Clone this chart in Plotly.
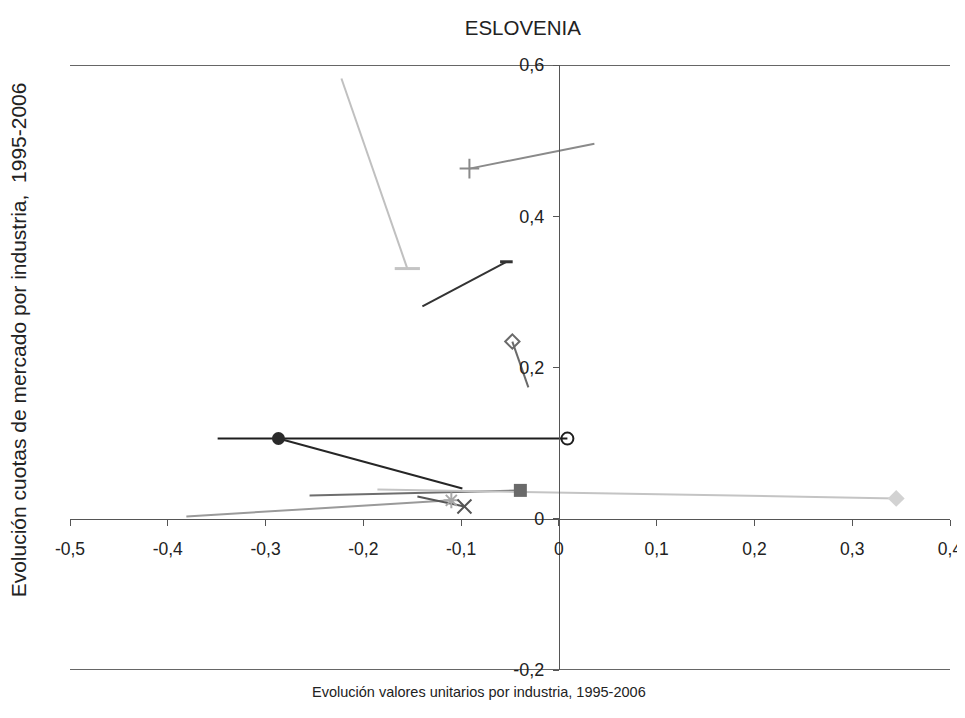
import plotly.graph_objects as go

# Each series: start point (1995) -> end point (2006, with marker)
series_names = ["A", "B", "C", "D", "E", "F", "G", "H", "I", "J"]
x_start = [-0.349, -0.0987, -0.255, -0.1856, -0.381, -0.1447, 0.0363, -0.2224, -0.1396, -0.0312]
y_start = [0.106, 0.0401, 0.0309, 0.0388, 0.003, 0.0295, 0.496, 0.5822, 0.2809, 0.1738]
x_end = [0.0087, -0.2868, -0.0394, 0.345, -0.110, -0.0966, -0.0915, -0.155, -0.0537, -0.0476]
y_end = [0.106, 0.1061, 0.0375, 0.0269, 0.0243, 0.0163, 0.463, 0.3308, 0.3398, 0.2343]

line_colors = ["#1e1e1e", "#262626", "#6e6e6e", "#c4c4c4", "#9a9a9a", "#555555", "#8a8a8a", "#c0c0c0", "#333333", "#6a6a6a"]
marker_colors = ["#1e1e1e", "#2a2a2a", "#6a6a6a", "#d2d2d2", "#a8a8a8", "#555555", "#8a8a8a", "#c4c4c4", "#333333", "#6a6a6a"]
marker_symbols = ["circle-open", "circle", "square", "diamond", "asterisk-open", "x-thin-open",
                  "cross-thin-open", "line-ew-open", "line-ew-open", "diamond-open"]
marker_sizes = [12, 13, 13, 13, 13, 14, 14, 18, 9, 11]

x_tickvals = [-0.5, -0.4, -0.3, -0.2, -0.1, 0, 0.1, 0.2, 0.3, 0.4]
x_ticktext = ["-0,5", "-0,4", "-0,3", "-0,2", "-0,1", "0", "0,1", "0,2", "0,3", "0,4"]
y_tickvals = [-0.2, 0, 0.2, 0.4, 0.6]
y_ticktext = ["-0,2", "0", "0,2", "0,4", "0,6"]

x_range = [-0.5, 0.4]
y_range = [-0.2, 0.6]

FONT = "Liberation Sans, Arial, sans-serif"

fig = go.Figure()

# lines
for i in range(len(series_names)):
    fig.add_trace(go.Scatter(
        x=[x_start[i], x_end[i]], y=[y_start[i], y_end[i]],
        mode="lines", line=dict(color=line_colors[i], width=2),
        showlegend=False, hoverinfo="skip"))

# end markers
for i in range(len(series_names)):
    sym = marker_symbols[i]
    lw = 2 if sym.endswith("open") else 0
    if sym == "line-ew-open":
        lw = 3
    fig.add_trace(go.Scatter(
        x=[x_end[i]], y=[y_end[i]], mode="markers",
        marker=dict(symbol=sym, size=marker_sizes[i], color=marker_colors[i],
                    line=dict(color=marker_colors[i], width=lw)),
        showlegend=False, name=series_names[i]))

# position of crossing axes in paper coordinates
x_axis_pos = (0 - y_range[0]) / (y_range[1] - y_range[0])
y_axis_pos = (0 - x_range[0]) / (x_range[1] - x_range[0])

fig.update_layout(
    width=957, height=702,
    margin=dict(l=62, r=15, t=57, b=40, autoexpand=False),
    paper_bgcolor="white", plot_bgcolor="white",
    font=dict(family=FONT, size=15, color="#222222"),
    title=dict(text="ESLOVENIA", x=0.538, xanchor="center", y=0.9715, yanchor="middle",
               font=dict(family=FONT, size=20.5, color="#222222")),
    xaxis=dict(range=x_range, anchor="free", position=x_axis_pos,
               showgrid=False, zeroline=False, showline=True, linecolor="#555555", linewidth=1,
               ticks="outside", ticklen=6, tickcolor="#555555", tickwidth=1,
               tickvals=x_tickvals, ticktext=x_ticktext, ticklabelstandoff=8,
               ticklabeloverflow="allow",
               tickfont=dict(family=FONT, size=17.5, color="#222222")),
    yaxis=dict(range=y_range, anchor="free", position=y_axis_pos,
               showgrid=False, zeroline=False, showline=True, linecolor="#555555", linewidth=1,
               ticks="outside", ticklen=6, tickcolor="#555555", tickwidth=1,
               tickvals=y_tickvals, ticktext=y_ticktext, ticklabelstandoff=5,
               tickfont=dict(family=FONT, size=18, color="#222222")),
    shapes=[
        dict(type="line", xref="paper", yref="y", x0=0, x1=1, y0=y_range[1], y1=y_range[1],
             line=dict(color="#333333", width=1.3), layer="below"),
        dict(type="line", xref="paper", yref="y", x0=0, x1=1, y0=y_range[0], y1=y_range[0],
             line=dict(color="#333333", width=1.3), layer="below"),
    ],
    annotations=[
        dict(text="Evolución valores unitarios por industria, 1995-2006", xref="paper", yref="paper",
             x=0.465, y=-0.036, xanchor="center", yanchor="middle", showarrow=False,
             font=dict(family=FONT, size=14.5, color="#222222")),
        dict(text="Evolución cuotas de mercado por industria,  1995-2006", xref="paper", yref="paper",
             x=-0.059, y=0.545, xanchor="center", yanchor="middle", showarrow=False, textangle=-90,
             font=dict(family=FONT, size=21, color="#222222")),
    ],
)

fig.write_html("out.html")
